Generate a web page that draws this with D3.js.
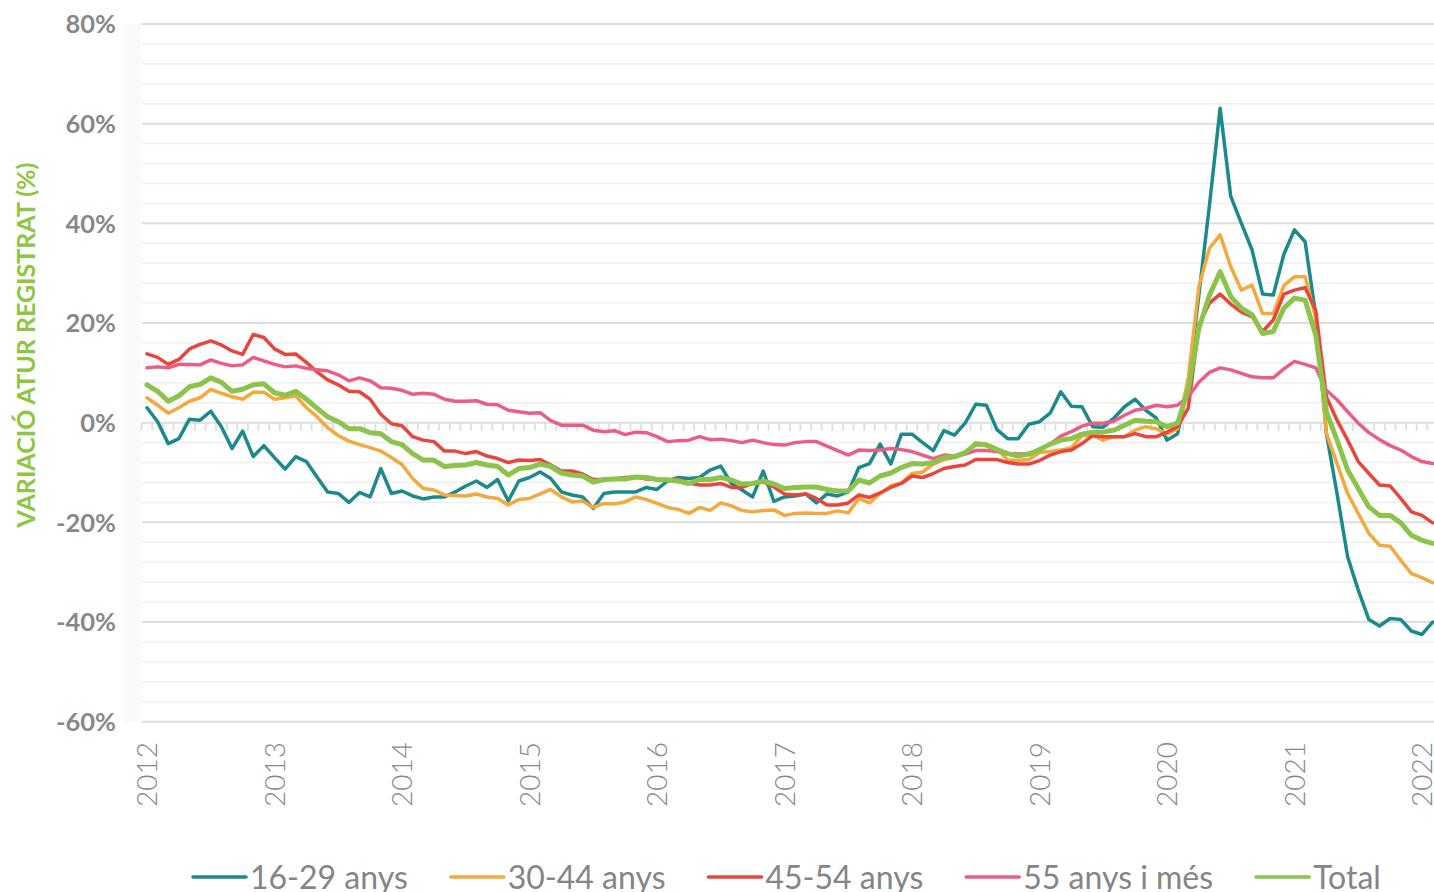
<!DOCTYPE html>
<html>
<head>
<meta charset="utf-8">
<script src="https://cdn.jsdelivr.net/npm/d3@7"></script>
<style>
  html, body { margin: 0; padding: 0; background: #ffffff; }
  svg { display: block; }
</style>
</head>
<body>
<svg id="chart" width="1434" height="892"></svg>
<script>
// ---------- DATA ----------
const startYear = 2012;
const nMonths = 122; // Jan 2012 .. Feb 2022
const months = d3.range(nMonths).map(i => {
  const y = startYear + Math.floor(i / 12), m = (i % 12) + 1;
  return y + "-" + String(m).padStart(2, "0");
});
const yearLabels = ["2012","2013","2014","2015","2016","2017","2018","2019","2020","2021","2022"];
const yTicks = [80, 60, 40, 20, 0, -20, -40, -60];
const seriesNames = ["16-29 anys", "30-44 anys", "45-54 anys", "55 anys i més", "Total"];
const yAxisTitle = "VARIACIÓ ATUR REGISTRAT (%)";

const s1629 = [3.0,0.2,-4.2,-3.2,0.7,0.5,2.3,-0.8,-5.2,-1.7,-6.8,-4.6,
  -7.0,-9.3,-6.8,-7.8,-10.9,-13.9,-14.2,-16.0,-14.0,-14.9,-9.2,-14.2,
  -13.7,-14.7,-15.3,-14.9,-14.9,-13.9,-12.7,-11.7,-13.0,-11.4,-15.7,-11.7,
  -11.0,-9.9,-11.2,-13.9,-14.5,-14.9,-17.2,-14.2,-13.9,-13.9,-13.9,-13.0,
  -13.4,-11.7,-11.0,-11.2,-11.0,-9.5,-8.7,-12.2,-13.5,-14.9,-9.7,-15.8,
  -14.9,-14.7,-14.3,-16.1,-14.3,-14.7,-13.9,-9.0,-8.2,-4.3,-8.3,-2.3,
  -2.3,-4.0,-5.6,-1.6,-2.5,-0.1,3.7,3.5,-1.4,-3.2,-3.2,-0.3,
  0.2,1.9,6.2,3.3,3.2,-0.8,-0.9,0.9,3.2,4.7,2.5,0.9,
  -3.5,-2.2,8.0,25.6,43.7,63.1,45.4,40.0,34.7,25.8,25.6,33.8,
  38.7,36.3,21.5,-2.1,-14.2,-26.9,-33.6,-39.5,-40.8,-39.3,-39.5,-41.8,
  -42.5,-40.0];
const s3044 = [5.0,3.5,1.9,3.0,4.3,5.0,6.7,5.9,5.2,4.7,6.1,6.1,
  4.7,5.0,5.4,3.0,1.2,-1.0,-2.6,-3.7,-4.4,-5.0,-5.7,-7.0,
  -8.4,-11.2,-13.2,-13.5,-14.5,-14.6,-14.7,-14.3,-14.9,-15.2,-16.5,-15.4,
  -15.2,-14.3,-13.4,-14.9,-15.9,-15.7,-17.0,-16.2,-16.3,-15.9,-14.9,-15.4,
  -16.2,-17.0,-17.4,-18.2,-17.0,-17.6,-16.1,-16.7,-17.6,-17.9,-17.6,-17.5,
  -18.6,-18.2,-18.1,-18.2,-18.2,-17.7,-18.1,-15.2,-16.1,-14.2,-12.7,-12.1,
  -10.2,-9.9,-8.3,-7.4,-7.0,-6.2,-4.0,-4.3,-5.2,-7.5,-7.6,-7.4,
  -6.0,-5.8,-5.5,-5.0,-2.6,-2.6,-3.5,-2.8,-2.8,-1.5,-0.8,-1.2,
  -2.3,-1.2,8.9,27.3,35.0,37.7,31.3,26.6,27.6,21.9,21.9,27.5,
  29.3,29.3,21.0,-2.1,-8.2,-14.2,-18.2,-22.2,-24.6,-24.8,-27.6,-30.3,
  -31.1,-32.1];
const s4554 = [13.8,13.1,11.7,12.7,14.8,15.7,16.4,15.6,14.4,13.7,17.7,17.1,
  14.8,13.7,13.8,12.1,10.2,8.6,7.6,6.3,6.2,4.7,1.7,-0.2,
  -0.6,-2.8,-3.5,-3.8,-5.7,-5.7,-6.2,-5.8,-6.7,-7.2,-8.0,-7.5,
  -7.6,-7.4,-8.5,-9.7,-9.7,-10.3,-11.4,-11.4,-11.3,-11.0,-10.9,-11.3,
  -11.4,-11.4,-11.4,-12.1,-12.5,-12.5,-12.2,-13.0,-13.0,-12.2,-11.9,-12.9,
  -14.3,-14.5,-14.3,-15.2,-16.5,-16.5,-16.1,-14.5,-15.0,-14.1,-13.0,-12.2,
  -10.7,-11.0,-10.2,-9.2,-8.8,-8.5,-7.4,-7.4,-7.4,-8.0,-8.3,-8.3,
  -7.6,-6.5,-5.8,-5.5,-4.2,-2.6,-2.8,-2.8,-2.8,-2.2,-2.8,-2.8,
  -1.9,-0.8,2.9,19.6,24.0,25.8,23.8,22.2,21.3,18.3,20.6,25.8,
  26.6,27.1,22.5,5.2,0.5,-3.5,-7.8,-10.2,-12.5,-12.7,-15.2,-17.9,
  -18.6,-20.1];
const s55 = [11.0,11.2,11.0,11.7,11.7,11.6,12.6,11.9,11.4,11.6,13.1,12.4,
  11.7,11.2,11.4,10.9,10.6,10.4,9.6,8.4,9.0,8.4,7.0,6.9,
  6.5,5.7,5.9,5.7,4.7,4.3,4.3,4.4,3.7,3.6,2.5,2.2,
  1.9,2.0,0.4,-0.5,-0.5,-0.5,-1.5,-1.8,-1.6,-2.4,-1.9,-2.0,
  -2.8,-3.8,-3.6,-3.5,-2.8,-3.4,-3.3,-3.6,-4.0,-3.5,-4.0,-4.4,
  -4.5,-4.0,-3.8,-3.8,-4.7,-5.6,-6.5,-5.5,-5.6,-5.5,-5.2,-5.4,
  -5.8,-6.5,-7.2,-6.5,-6.7,-6.3,-5.6,-5.6,-5.8,-6.2,-6.3,-6.2,
  -5.5,-4.3,-2.7,-1.8,-0.7,-0.1,-0.1,0.3,1.5,2.5,2.9,3.5,
  3.2,3.5,5.2,8.1,10.1,11.0,10.6,9.9,9.2,9.0,9.0,10.8,
  12.3,11.7,11.0,6.5,4.6,2.2,-0.1,-2.0,-3.4,-4.6,-5.5,-6.8,
  -7.8,-8.2];
const sTotal = [7.6,6.3,4.3,5.4,7.2,7.7,9.0,8.1,6.3,6.7,7.6,7.8,
  6.0,5.5,6.3,4.7,2.9,1.2,0.2,-1.2,-1.2,-2.0,-2.2,-3.8,
  -4.4,-6.2,-7.5,-7.5,-8.8,-8.6,-8.5,-8.0,-8.5,-8.8,-10.5,-9.2,
  -9.0,-8.3,-8.8,-10.1,-10.5,-10.7,-11.9,-11.4,-11.3,-11.3,-10.9,-11.0,
  -11.4,-11.5,-11.7,-12.2,-11.4,-11.4,-11.0,-11.5,-12.3,-12.2,-11.7,-12.3,
  -13.2,-13.0,-12.9,-12.9,-13.4,-13.7,-13.7,-11.5,-12.1,-10.7,-10.1,-9.0,
  -8.2,-8.3,-8.0,-7.0,-6.8,-6.0,-4.3,-4.5,-5.4,-6.2,-6.7,-6.3,
  -5.4,-4.3,-3.5,-3.2,-2.3,-1.9,-1.9,-1.5,-0.5,0.5,0.3,0.2,
  -0.8,-0.1,6.7,18.9,25.6,30.3,25.3,23.0,21.7,17.9,18.3,23.0,
  25.0,24.6,17.6,2.2,-3.5,-9.5,-13.2,-16.9,-18.6,-18.6,-20.1,-22.6,
  -23.6,-24.2];

const seriesValues = [s1629, s3044, s4554, s55, sTotal];
const seriesColors = ["#1c8a8d", "#f3a93c", "#e8463c", "#ec5d86", "#8cc34b"];
const seriesWidths = [3.5, 3.5, 3.5, 3.5, 5];

// ---------- LAYOUT ----------
const W = 1434, H = 892;
const step = 10.625;
const x0 = 147;
const x = d3.scalePoint().domain(months).range([x0, x0 + step * (nMonths - 1)]);
const y = d3.scaleLinear().domain([-60, 80]).range([721.7, 24]);
const plotLeft = x0 - step / 2;

const svg = d3.select("#chart");
const font = "Lato, 'Open Sans', sans-serif";

// faint left band
svg.append("rect").attr("x", 124).attr("y", 24).attr("width", 17).attr("height", 698)
  .attr("fill", "#fafafa");

// minor gridlines
const minor = d3.range(-60, 81, 4).filter(v => v % 20 !== 0);
svg.append("g").selectAll("line").data(minor).join("line")
  .attr("x1", plotLeft).attr("x2", W)
  .attr("y1", d => y(d)).attr("y2", d => y(d))
  .attr("stroke", "#f0f0f0").attr("stroke-width", 1.5);

// major gridlines
svg.append("g").selectAll("line").data(yTicks).join("line")
  .attr("x1", plotLeft).attr("x2", W)
  .attr("y1", d => y(d)).attr("y2", d => y(d))
  .attr("stroke", "#dedede").attr("stroke-width", 2);

// monthly ticks on zero line
svg.append("g").selectAll("line").data(months).join("line")
  .attr("x1", d => x(d) - step / 2).attr("x2", d => x(d) - step / 2)
  .attr("y1", y(0)).attr("y2", y(0) + 8)
  .attr("stroke", "#dedede").attr("stroke-width", 1.8);

// y labels
svg.append("g").selectAll("text").data(yTicks).join("text")
  .attr("x", 116).attr("y", d => y(d)).attr("dy", "0.36em")
  .attr("text-anchor", "end")
  .attr("font-family", font).attr("font-weight", 700).attr("font-size", 25.5)
  .attr("fill", "#888888")
  .text(d => d + "%");

// x labels (January of each year)
svg.append("g").selectAll("text").data(yearLabels).join("text")
  .attr("transform", d => `translate(${x(d + "-01")},742) rotate(-90)`)
  .attr("dy", "0.36em")
  .attr("text-anchor", "end")
  .attr("font-family", font).attr("font-weight", 300).attr("font-size", 28)
  .attr("fill", "#888888")
  .text(d => d);

// y axis title
svg.append("text")
  .attr("transform", "translate(26,345) rotate(-90)")
  .attr("dy", "0.36em").attr("text-anchor", "middle")
  .attr("font-family", font).attr("font-weight", 700).attr("font-size", 25)
  .attr("fill", "#8dc63f")
  .text(yAxisTitle);

// lines
const line = d3.line().x((d, i) => x(months[i])).y(d => y(d));
svg.append("g").selectAll("path").data(seriesValues).join("path")
  .attr("d", d => line(d))
  .attr("fill", "none")
  .attr("stroke", (d, i) => seriesColors[i])
  .attr("stroke-width", (d, i) => seriesWidths[i])
  .attr("stroke-linejoin", "round")
  .attr("stroke-linecap", "round");

// legend
const lg = svg.append("g");
let lx = 193;
seriesNames.forEach((name, i) => {
  lg.append("line").attr("x1", lx).attr("x2", lx + 53)
    .attr("y1", 877).attr("y2", 877)
    .attr("stroke", seriesColors[i]).attr("stroke-width", 3.6).attr("stroke-linecap", "round");
  const t = lg.append("text").attr("x", lx + 57).attr("y", 889)
    .attr("font-family", font).attr("font-size", 32).attr("fill", "#858585")
    .text(name);
  lx = lx + 57 + t.node().getComputedTextLength() + 43;
});
</script>
</body>
</html>
